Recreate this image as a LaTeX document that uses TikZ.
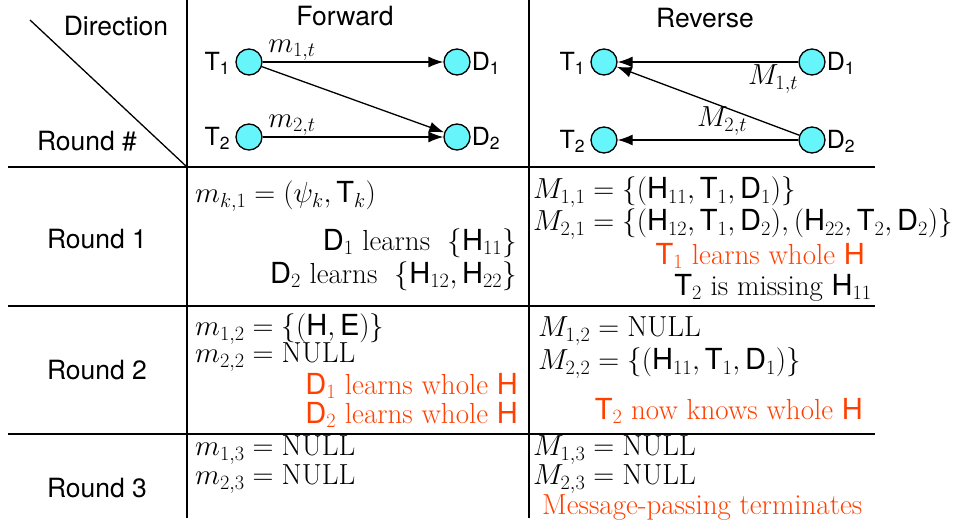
\RequirePackage{fix-cm}
\documentclass[tikz,border=0pt]{standalone}
\usepackage{fontspec}
\setsansfont{TeX Gyre Heros}
\usetikzlibrary{arrows.meta}
\definecolor{nodecyan}{RGB}{102,245,250}
\definecolor{redtxt}{RGB}{255,64,0}
\newcommand{\mainsize}{\fontsize{29}{33}\selectfont}
\newcommand{\hdrsize}{\fontsize{26.5}{30}\selectfont\sffamily}
\newcommand{\lblsize}{\fontsize{25}{29}\selectfont\sffamily}
\tikzset{
  dot/.style={circle,draw=black,line width=1.3pt,fill=nodecyan,minimum size=26pt,inner sep=0pt},
  lbl/.style={inner sep=0pt,font=\lblsize},
  hdr/.style={inner sep=0pt,font=\hdrsize},
  txt/.style={inner sep=0pt,font=\mainsize},
  red/.style={inner sep=0pt,font=\mainsize,text=redtxt},
  msg/.style={draw,line width=1.3pt,-{Latex[length=15pt,width=11pt]}},
  thick rule/.style={line width=2.6pt},
  thin rule/.style={line width=1.3pt},
}
\newcommand{\sT}{\mathsf{T}}
\newcommand{\sD}{\mathsf{D}}
\newcommand{\sH}{\mathsf{H}}
\newcommand{\sE}{\mathsf{E}}
\begin{document}
\begin{tikzpicture}[x=1pt,y=-1pt]
\useasboundingbox (0,0) rectangle (967,527);
% grid
\draw[thick rule] (187,0) -- (187,518);
\draw[thick rule] (529,0) -- (529,518);
\draw[thick rule] (8,167) -- (875,167);
\draw[thin rule] (8,306) -- (875,306);
\draw[thin rule] (8,434) -- (875,434);
\draw[thin rule] (30,20) -- (187,167);
% headers
\node[hdr] (hdir) at (116,26) {Direction};
\node[hdr] (hround) at (87,141) {Round \#};
\node[hdr] (hfwd) at (345,16) {Forward};
\node[hdr] (hrev) at (705,18) {Reverse};
% forward graph
\node[dot] (fT1) at (249,62) {};
\node[dot] (fD1) at (457,62) {};
\node[dot] (fT2) at (249,137) {};
\node[dot] (fD2) at (457,137) {};
\node[lbl,anchor=east] (fT1l) at ([xshift=-5pt,yshift=-1pt]fT1.west) {T\textsubscript{1}};
\node[lbl,anchor=east] (fT2l) at ([xshift=-5pt,yshift=-1pt]fT2.west) {T\textsubscript{2}};
\node[lbl,anchor=west] (fD1l) at ([xshift=1pt,yshift=-1pt]fD1.east) {D\textsubscript{1}};
\node[lbl,anchor=west] (fD2l) at ([xshift=1pt,yshift=-1pt]fD2.east) {D\textsubscript{2}};
\draw[msg] (fT1) -- (fD1);
\draw[msg] (fT1) -- (fD2);
\draw[msg] (fT2) -- (fD2);
\node[txt] (m1t) at (292,50) {$m_{1,t}$};
\node[txt] (m2t) at (292,125) {$m_{2,t}$};
% reverse graph
\node[dot] (rT1) at (604,62) {};
\node[dot] (rD1) at (812,62) {};
\node[dot] (rT2) at (604,140) {};
\node[dot] (rD2) at (812,140) {};
\node[lbl,anchor=east] (rT1l) at ([xshift=-5pt,yshift=-1pt]rT1.west) {T\textsubscript{1}};
\node[lbl,anchor=east] (rT2l) at ([xshift=-5pt,yshift=-1pt]rT2.west) {T\textsubscript{2}};
\node[lbl,anchor=west] (rD1l) at ([xshift=1pt,yshift=-1pt]rD1.east) {D\textsubscript{1}};
\node[lbl,anchor=west] (rD2l) at ([xshift=1pt,yshift=-1pt]rD2.east) {D\textsubscript{2}};
\draw[msg] (rD1) -- (rT1);
\draw[msg] (rD2) -- (rT1);
\draw[msg] (rD2) -- (rT2);
\node[txt] (M1t) at (773,79) {$M_{1,t}$};
\node[txt] (M2t) at (722,121) {$M_{2,t}$};
% row labels
\node[hdr] (r1) at (97,239) {Round 1};
\node[hdr] (r2) at (97,370) {Round 2};
\node[hdr] (r3) at (97,488) {Round 3};
% round 1
\node[txt,anchor=west] (a1) at (195,196) {$m_{k,1}=(\psi_k,\sT_k)$};
\node[txt,anchor=east] (a2) at (517,243) {$\sD_1$ learns \ $\{\sH_{11}\}$};
\node[txt,anchor=east] (a3) at (517,276) {$\sD_2$ learns \ $\{\sH_{12},\sH_{22}\}$};
\node[txt,anchor=west] (b1) at (533,192) {$M_{1,1}=\{(\sH_{11},\sT_1,\sD_1)\}$};
\node[txt,anchor=west] (b2) at (533,224) {$M_{2,1}=\{(\sH_{12},\sT_1,\sD_2),(\sH_{22},\sT_2,\sD_2)\}$};
\node[red,anchor=east] (b3) at (865,256) {$\sT_1$ learns whole $\sH$};
\node[txt,anchor=east] (b4) at (872,288) {$\sT_2$ is missing $\sH_{11}$};
% round 2
\node[txt,anchor=west] (c1) at (195,329) {$m_{1,2}=\{(\sH,\sE)\}$};
\node[txt,anchor=west] (c2) at (195,357) {$m_{2,2}=\mathrm{NULL}$};
\node[red,anchor=east] (c3) at (518,386) {$\sD_1$ learns whole $\sH$};
\node[red,anchor=east] (c4) at (518,415) {$\sD_2$ learns whole $\sH$};
\node[txt,anchor=west] (d1) at (538,331) {$M_{1,2}=\mathrm{NULL}$};
\node[txt,anchor=west] (d2) at (538,363) {$M_{2,2}=\{(\sH_{11},\sT_1,\sD_1)\}$};
\node[red,anchor=east] (d3) at (863,411) {$\sT_2$ now knows whole $\sH$};
% round 3
\node[txt,anchor=west] (e1) at (195,450) {$m_{1,3}=\mathrm{NULL}$};
\node[txt,anchor=west] (e2) at (195,479) {$m_{2,3}=\mathrm{NULL}$};
\node[txt,anchor=west] (f1) at (533,450) {$M_{1,3}=\mathrm{NULL}$};
\node[txt,anchor=west] (f2) at (533,479) {$M_{2,3}=\mathrm{NULL}$};
\node[red,anchor=west] (f3) at (542,508) {Message-passing terminates};
\end{tikzpicture}
\end{document}
